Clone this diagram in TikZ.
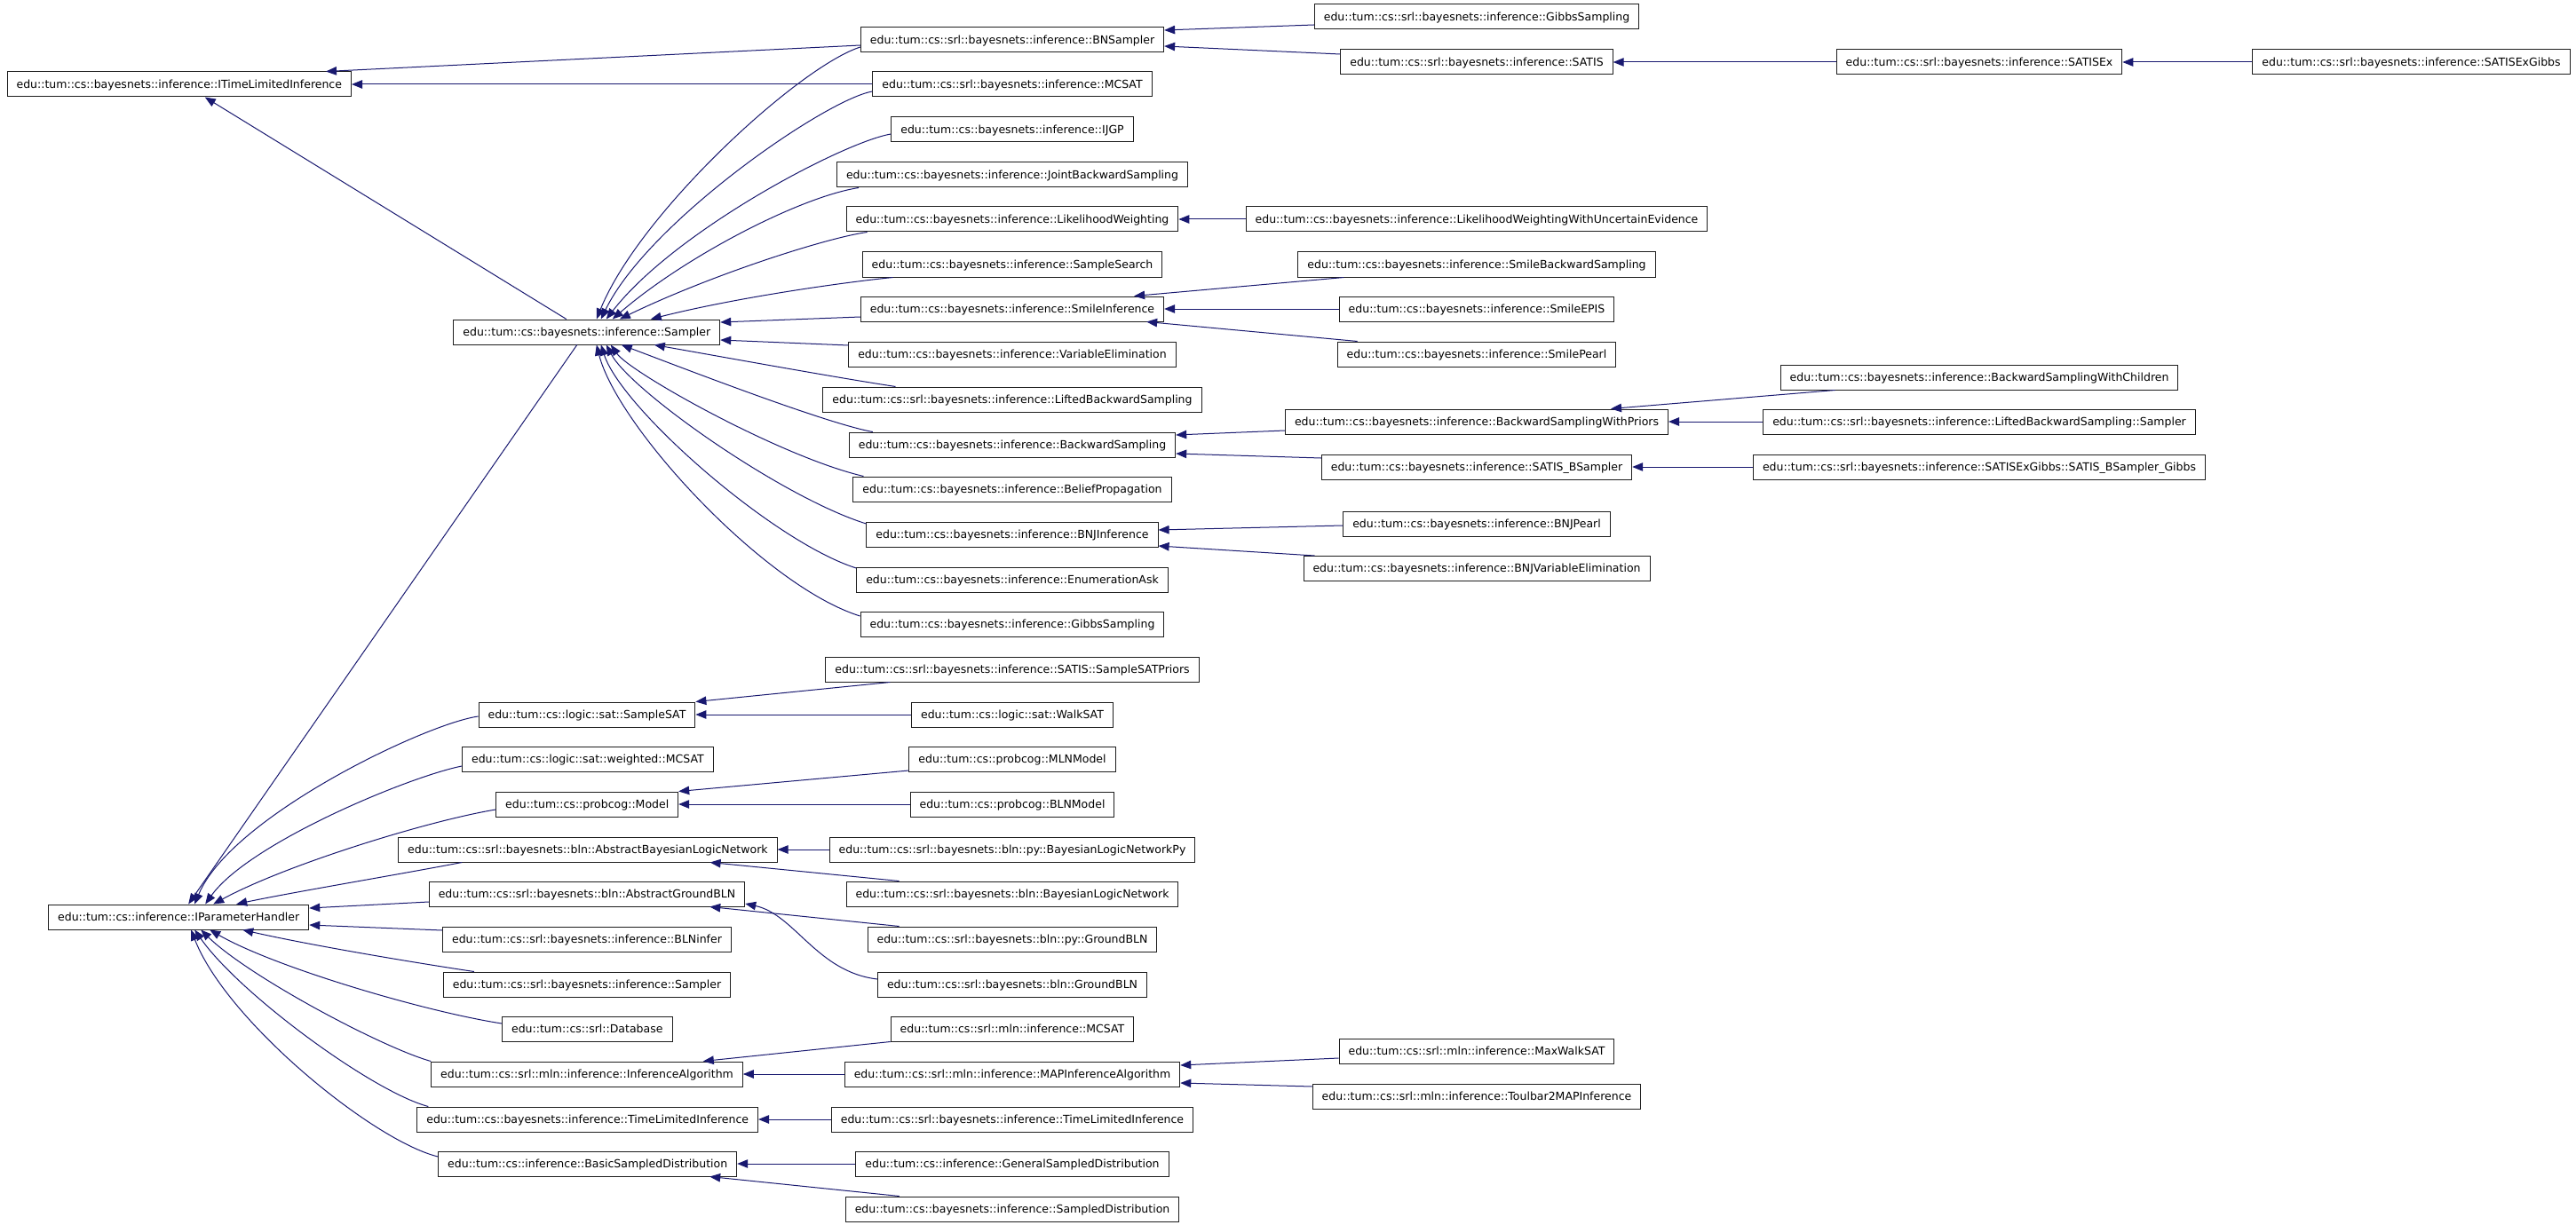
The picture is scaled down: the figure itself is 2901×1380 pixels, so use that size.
\documentclass[tikz,border=0pt]{standalone}
\usepackage{fontspec}
\setmainfont{DejaVu Sans}
\usetikzlibrary{arrows.meta,calc}
\definecolor{edgeblue}{RGB}{25,25,112}
\definecolor{boxline}{RGB}{30,30,30}
\begin{document}
\begin{tikzpicture}[x=1pt,y=-1pt,
  box/.style={draw=boxline, line width=1pt, fill=white, rectangle, minimum height=28pt,
    inner xsep=10.5pt, inner ysep=0pt, text height=10pt, text depth=1.5pt,
    font=\fontsize{12.5}{15}\selectfont},
  edge/.style={draw=edgeblue, line width=1pt, -{Triangle[length=12pt,width=9.5pt]}}]
\useasboundingbox[fill=white] (0,0) rectangle (2901,1380);

% rank 0
\node[box] (itli) at (201.8,95) {edu::tum::cs::bayesnets::inference::ITimeLimitedInference};
\node[box] (iph) at (201.2,1033) {edu::tum::cs::inference::IParameterHandler};

% rank 1
\node[box] (sampler) at (660.8,374) {edu::tum::cs::bayesnets::inference::Sampler};
\node[box] (samplesat) at (661,805) {edu::tum::cs::logic::sat::SampleSAT};
\node[box] (wmcsat) at (661.9,855) {edu::tum::cs::logic::sat::weighted::MCSAT};
\node[box] (model) at (661.2,906) {edu::tum::cs::probcog::Model};
\node[box] (abln) at (661.9,957) {edu::tum::cs::srl::bayesnets::bln::AbstractBayesianLogicNetwork};
\node[box] (agbln) at (661,1007) {edu::tum::cs::srl::bayesnets::bln::AbstractGroundBLN};
\node[box] (blninfer) at (661,1058) {edu::tum::cs::srl::bayesnets::inference::BLNinfer};
\node[box] (srlsampler) at (661,1109) {edu::tum::cs::srl::bayesnets::inference::Sampler};
\node[box] (database) at (661.3,1159) {edu::tum::cs::srl::Database};
\node[box] (infalg) at (661,1210) {edu::tum::cs::srl::mln::inference::InferenceAlgorithm};
\node[box] (tli) at (661.7,1261) {edu::tum::cs::bayesnets::inference::TimeLimitedInference};
\node[box] (bsd) at (661.7,1311) {edu::tum::cs::inference::BasicSampledDistribution};

% rank 2
\node[box] (bnsampler) at (1140,45) {edu::tum::cs::srl::bayesnets::inference::BNSampler};
\node[box] (srlmcsat) at (1140,95) {edu::tum::cs::srl::bayesnets::inference::MCSAT};
\node[box] (ijgp) at (1140,146) {edu::tum::cs::bayesnets::inference::IJGP};
\node[box] (jbs) at (1140,197) {edu::tum::cs::bayesnets::inference::JointBackwardSampling};
\node[box] (lw) at (1140,247) {edu::tum::cs::bayesnets::inference::LikelihoodWeighting};
\node[box] (ssearch) at (1140,298) {edu::tum::cs::bayesnets::inference::SampleSearch};
\node[box] (smile) at (1140,348) {edu::tum::cs::bayesnets::inference::SmileInference};
\node[box] (varelim) at (1140,399) {edu::tum::cs::bayesnets::inference::VariableElimination};
\node[box] (lbs) at (1140,450) {edu::tum::cs::srl::bayesnets::inference::LiftedBackwardSampling};
\node[box] (bs) at (1140,501) {edu::tum::cs::bayesnets::inference::BackwardSampling};
\node[box] (bp) at (1140,551) {edu::tum::cs::bayesnets::inference::BeliefPropagation};
\node[box] (bnj) at (1140,602) {edu::tum::cs::bayesnets::inference::BNJInference};
\node[box] (enumask) at (1140,653) {edu::tum::cs::bayesnets::inference::EnumerationAsk};
\node[box] (gibbs) at (1140,703) {edu::tum::cs::bayesnets::inference::GibbsSampling};
\node[box] (sspriors) at (1140,754) {edu::tum::cs::srl::bayesnets::inference::SATIS::SampleSATPriors};
\node[box] (walksat) at (1140,805) {edu::tum::cs::logic::sat::WalkSAT};
\node[box] (mlnmodel) at (1140,855) {edu::tum::cs::probcog::MLNModel};
\node[box] (blnmodel) at (1140,906) {edu::tum::cs::probcog::BLNModel};
\node[box] (blnpy) at (1140,957) {edu::tum::cs::srl::bayesnets::bln::py::BayesianLogicNetworkPy};
\node[box] (bln) at (1140,1007) {edu::tum::cs::srl::bayesnets::bln::BayesianLogicNetwork};
\node[box] (pygbln) at (1140,1058) {edu::tum::cs::srl::bayesnets::bln::py::GroundBLN};
\node[box] (gbln) at (1140,1109) {edu::tum::cs::srl::bayesnets::bln::GroundBLN};
\node[box] (mlnmcsat) at (1140,1159) {edu::tum::cs::srl::mln::inference::MCSAT};
\node[box] (mapia) at (1140,1210) {edu::tum::cs::srl::mln::inference::MAPInferenceAlgorithm};
\node[box] (srltli) at (1140,1261) {edu::tum::cs::srl::bayesnets::inference::TimeLimitedInference};
\node[box] (gsd) at (1140,1311) {edu::tum::cs::inference::GeneralSampledDistribution};
\node[box] (sd) at (1140,1362) {edu::tum::cs::bayesnets::inference::SampledDistribution};

% rank 3
\node[box] (srlgibbs) at (1663,19) {edu::tum::cs::srl::bayesnets::inference::GibbsSampling};
\node[box] (satis) at (1663,70) {edu::tum::cs::srl::bayesnets::inference::SATIS};
\node[box] (lwwue) at (1663,247) {edu::tum::cs::bayesnets::inference::LikelihoodWeightingWithUncertainEvidence};
\node[box] (smilebs) at (1663,298) {edu::tum::cs::bayesnets::inference::SmileBackwardSampling};
\node[box] (smileepis) at (1663,348) {edu::tum::cs::bayesnets::inference::SmileEPIS};
\node[box] (smilepearl) at (1663,399) {edu::tum::cs::bayesnets::inference::SmilePearl};
\node[box] (bswp) at (1663,475) {edu::tum::cs::bayesnets::inference::BackwardSamplingWithPriors};
\node[box] (satisbs) at (1663,526) {edu::tum::cs::bayesnets::inference::SATIS\_BSampler};
\node[box] (bnjpearl) at (1663,590) {edu::tum::cs::bayesnets::inference::BNJPearl};
\node[box] (bnjve) at (1663,640.5) {edu::tum::cs::bayesnets::inference::BNJVariableElimination};
\node[box] (maxwalksat) at (1663,1184) {edu::tum::cs::srl::mln::inference::MaxWalkSAT};
\node[box] (toulbar) at (1663,1235) {edu::tum::cs::srl::mln::inference::Toulbar2MAPInference};

% rank 4
\node[box] (satisex) at (2229,70) {edu::tum::cs::srl::bayesnets::inference::SATISEx};
\node[box] (bswc) at (2229,425) {edu::tum::cs::bayesnets::inference::BackwardSamplingWithChildren};
\node[box] (lbssampler) at (2229,475) {edu::tum::cs::srl::bayesnets::inference::LiftedBackwardSampling::Sampler};
\node[box] (sbg) at (2229,526) {edu::tum::cs::srl::bayesnets::inference::SATISExGibbs::SATIS\_BSampler\_Gibbs};

% rank 5
\node[box] (satisexgibbs) at (2715.5,70) {edu::tum::cs::srl::bayesnets::inference::SATISExGibbs};

% ---- edges into ITimeLimitedInference
\draw[edge] ($(bnsampler.west)+(0,6)$) -- ($(itli.north east)+(-29,0)$);
\draw[edge] (srlmcsat.west) -- (itli.east);
\draw[edge] ($(sampler.north)+(-23,0)$) -- ($(itli.south)+(29,0)$);

% ---- edges into Sampler (from above)
\draw[edge] ($(bnsampler.west)+(0,8)$) .. controls (900,75) and (720,240) .. ($(sampler.north)+(11,0)$);
\draw[edge] ($(srlmcsat.west)+(0,8)$) .. controls (930,112) and (730,250) .. ($(sampler.north)+(16,0)$);
\draw[edge] ($(ijgp.west)+(0,5)$) .. controls (950,160) and (760,260) .. ($(sampler.north)+(22,0)$);
\draw[edge] ($(jbs.south west)+(25,0)$) .. controls (900,222) and (770,290) .. ($(sampler.north)+(29,0)$);
\draw[edge] ($(lw.south west)+(24,0)$) .. controls (930,268) and (800,310) .. ($(sampler.north)+(37,0)$);
\draw[edge] ($(ssearch.south west)+(35,0)$) .. controls (950,318) and (830,335) .. ($(sampler.north)+(72,0)$);
% right side
\draw[edge] ($(smile.west)+(0,9)$) -- ($(sampler.east)+(0,-11)$);
\draw[edge] ($(varelim.west)+(0,-10)$) -- ($(sampler.east)+(0,9)$);
% from below
\draw[edge] ($(lbs.north west)+(82,0)$) .. controls (940,425) and (830,405) .. ($(sampler.south)+(76,0)$);
\draw[edge] ($(bs.north west)+(27,0)$) .. controls (930,477) and (770,415) .. ($(sampler.south)+(39,0)$);
\draw[edge] ($(bp.north west)+(12,0)$) .. controls (880,515) and (710,420) .. ($(sampler.south)+(27,0)$);
\draw[edge] ($(bnj.west)+(0,-12)$) .. controls (880,560) and (710,440) .. ($(sampler.south)+(22,0)$);
\draw[edge] ($(enumask.west)+(0,-13)$) .. controls (870,610) and (700,460) .. ($(sampler.south)+(16,0)$);
\draw[edge] ($(gibbs.west)+(0,-9)$) .. controls (860,660) and (695,480) .. ($(sampler.south)+(11,0)$);

% ---- Sampler into IParameterHandler
\draw[edge] ($(sampler.south)+(-11,0)$) -- ($(iph.north)+(11,0)$);
% from above
\draw[edge] ($(samplesat.west)+(0,2)$) .. controls (480,815) and (260,920) .. ($(iph.north)+(18,0)$);
\draw[edge] ($(wmcsat.west)+(0,8)$) .. controls (460,875) and (280,950) .. ($(iph.north)+(30,0)$);
\draw[edge] ($(model.west)+(0,6)$) .. controls (480,925) and (320,975) .. ($(iph.north)+(39,0)$);
\draw[edge] ($(abln.south west)+(72,0)$) .. controls (450,985) and (330,1005) .. ($(iph.north)+(65,0)$);
% right side
\draw[edge] ($(agbln.west)+(0,9)$) -- ($(iph.east)+(0,-10)$);
\draw[edge] ($(blninfer.west)+(0,-10)$) -- ($(iph.east)+(0,9)$);
% from below
\draw[edge] ($(srlsampler.north west)+(35,0)$) .. controls (470,1085) and (350,1065) .. ($(iph.south)+(72,0)$);
\draw[edge] ($(database.west)+(0,-6)$) .. controls (480,1140) and (310,1090) .. ($(iph.south)+(35,0)$);
\draw[edge] (infalg.north west) .. controls (430,1180) and (280,1100) .. ($(iph.south)+(25,0)$);
\draw[edge] ($(tli.north west)+(13,0)$) .. controls (420,1230) and (270,1120) .. ($(iph.south)+(18,0)$);
\draw[edge] ($(bsd.west)+(0,-8)$) .. controls (420,1285) and (255,1150) .. ($(iph.south)+(14,0)$);

% ---- short edges
\draw[edge] ($(srlgibbs.west)+(0,9)$) -- ($(bnsampler.east)+(0,-11)$);
\draw[edge] ($(satis.west)+(0,-9)$) -- ($(bnsampler.east)+(0,7)$);
\draw[edge] (satisex.west) -- (satis.east);
\draw[edge] (satisexgibbs.west) -- (satisex.east);
\draw[edge] (lwwue.west) -- (lw.east);
\draw[edge] ($(smilebs.south west)+(52,0)$) -- ($(smile.north east)+(-34,0)$);
\draw[edge] (smileepis.west) -- (smile.east);
\draw[edge] ($(smilepearl.north west)+(23,0)$) -- ($(smile.south east)+(-20,0)$);
\draw[edge] ($(bswp.west)+(0,10)$) -- ($(bs.east)+(0,-11)$);
\draw[edge] ($(satisbs.west)+(0,-10)$) -- ($(bs.east)+(0,10)$);
\draw[edge] ($(bswc.south west)+(62,0)$) -- ($(bswp.north east)+(-65,0)$);
\draw[edge] (lbssampler.west) -- (bswp.east);
\draw[edge] (sbg.west) -- (satisbs.east);
\draw[edge] ($(bnjpearl.west)+(0,2)$) -- ($(bnj.east)+(0,-5)$);
\draw[edge] ($(bnjve.north west)+(13,0)$) -- ($(bnj.east)+(0,13)$);
\draw[edge] ($(sspriors.south west)+(73,0)$) -- (samplesat.north east);
\draw[edge] (walksat.west) -- (samplesat.east);
\draw[edge] ($(mlnmodel.west)+(0,13)$) -- (model.north east);
\draw[edge] (blnmodel.west) -- (model.east);
\draw[edge] (blnpy.west) -- (abln.east);
\draw[edge] ($(bln.north west)+(60,0)$) -- ($(abln.south east)+(-76,0)$);
\draw[edge] ($(pygbln.north west)+(36,0)$) -- ($(agbln.south east)+(-40,0)$);
\draw[edge] ($(gbln.west)+(0,-6)$) .. controls (920,1095) and (895,1030) .. ($(agbln.east)+(0,11)$);
\draw[edge] (mlnmcsat.south west) -- ($(infalg.north east)+(-45,0)$);
\draw[edge] (mapia.west) -- (infalg.east);
\draw[edge] ($(maxwalksat.west)+(0,8)$) -- ($(mapia.east)+(0,-10)$);
\draw[edge] ($(toulbar.west)+(0,-11)$) -- ($(mapia.east)+(0,10)$);
\draw[edge] (srltli.west) -- (tli.east);
\draw[edge] (gsd.west) -- (bsd.east);
\draw[edge] ($(sd.north west)+(61,0)$) -- ($(bsd.south east)+(-31,0)$);
\end{tikzpicture}
\end{document}
